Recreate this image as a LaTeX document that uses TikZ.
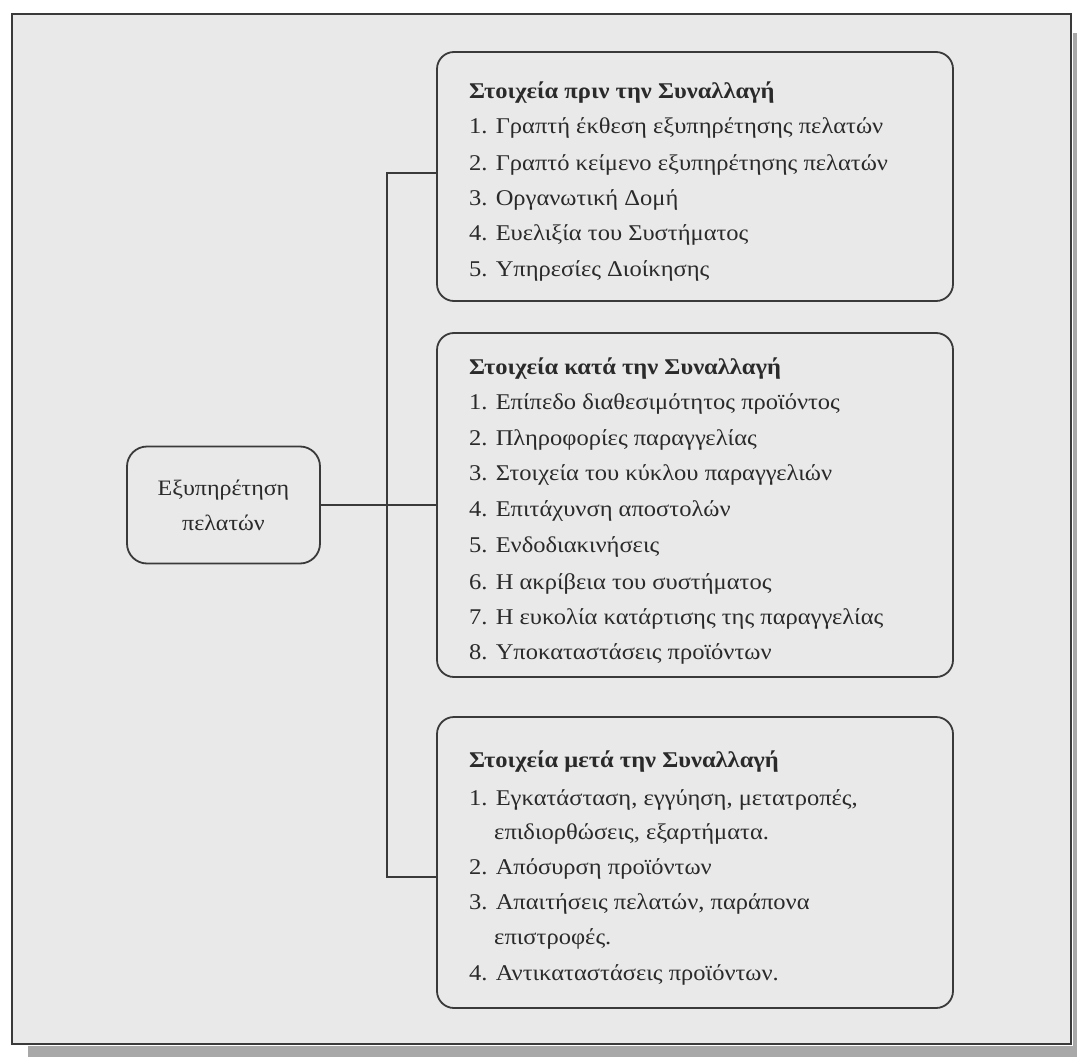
\documentclass[tikz,border=0pt]{standalone}
\usepackage{fontspec}
\setmainfont[FakeStretch=1.09]{Liberation Serif}
\definecolor{bgc}{HTML}{E9E9E9}
\definecolor{linec}{HTML}{3A3A3A}
\definecolor{txtc}{HTML}{2A2A2A}
\definecolor{shadc}{HTML}{A8A8A8}
\begin{document}
\begin{tikzpicture}[x=1pt,y=-1pt]
\tikzset{
  box/.style={draw=linec, line width=1.8pt, rounded corners=17pt, minimum width=516pt, inner sep=0pt},
  custbox/.style={draw=linec, line width=1.8pt, rounded corners=20pt, minimum width=193pt, minimum height=117pt, inner sep=0pt, align=center, text=txtc, font=\fontsize{22}{35}\selectfont},
  ln/.style={anchor=base west, inner sep=0pt, text=txtc, font=\fontsize{22.5}{26}\selectfont},
  ttl/.style={anchor=base west, inner sep=0pt, text=txtc, font=\fontsize{22.5}{26}\selectfont\bfseries},
  conn/.style={draw=linec, line width=1.6pt},
}
\useasboundingbox (0,0) rectangle (1077,1057);
% shadow and frame
\fill[shadc] (28,1046) rectangle (1077,1057);
\fill[shadc] (1073,33) rectangle (1077,1057);
\draw[fill=bgc, draw=linec, line width=1.6pt] (12,14) rectangle (1071,1044);

% boxes
\node[box, minimum height=249pt] (pre) at (695,176.5) {};
\node[box, minimum height=344pt] (mid) at (695,505) {};
\node[box, minimum height=291pt] (post) at (695,862.5) {};
\node[custbox] (cust) at (223.5,505) {Εξυπηρέτηση\\πελατών};

% connectors
\coordinate (jt) at (387,173);
\coordinate (jb) at (387,877);
\draw[conn] (cust.east) -- (mid.west);
\draw[conn] (pre.west |- jt) -- (jt) -- (jb) -- (post.west |- jb);

% box 1 text
\node[ttl] (p0) at (469,99) {Στοιχεία πριν την Συναλλαγή};
\node[ln] (p1) at (469,133) {1. Γραπτή έκθεση εξυπηρέτησης πελατών};
\node[ln] (p2) at (469,170) {2. Γραπτό κείμενο εξυπηρέτησης πελατών};
\node[ln] (p3) at (469,205) {3. Οργανωτική Δομή};
\node[ln] (p4) at (469,240) {4. Ευελιξία του Συστήματος};
\node[ln] (p5) at (469,276) {5. Υπηρεσίες Διοίκησης};

% box 2 text
\node[ttl] (m0) at (469,374) {Στοιχεία κατά την Συναλλαγή};
\node[ln] (m1) at (469,409) {1. Επίπεδο διαθεσιμότητος προϊόντος};
\node[ln] (m2) at (469,445) {2. Πληροφορίες παραγγελίας};
\node[ln] (m3) at (469,480) {3. Στοιχεία του κύκλου παραγγελιών};
\node[ln] (m4) at (469,516) {4. Επιτάχυνση αποστολών};
\node[ln] (m5) at (469,552) {5. Ενδοδιακινήσεις};
\node[ln] (m6) at (469,589) {6. Η ακρίβεια του συστήματος};
\node[ln] (m7) at (469,624) {7. Η ευκολία κατάρτισης της παραγγελίας};
\node[ln] (m8) at (469,659) {8. Υποκαταστάσεις προϊόντων};

% box 3 text
\node[ttl] (q0) at (469,767) {Στοιχεία μετά την Συναλλαγή};
\node[ln] (q1) at (469,805) {1. Εγκατάσταση, εγγύηση, μετατροπές,};
\node[ln] (q1b) at (494,839) {επιδιορθώσεις, εξαρτήματα.};
\node[ln] (q2) at (469,874) {2. Απόσυρση προϊόντων};
\node[ln] (q3) at (469,909) {3. Απαιτήσεις πελατών, παράπονα};
\node[ln] (q3b) at (494,944) {επιστροφές.};
\node[ln] (q4) at (469,980) {4. Αντικαταστάσεις προϊόντων.};
\end{tikzpicture}
\end{document}
